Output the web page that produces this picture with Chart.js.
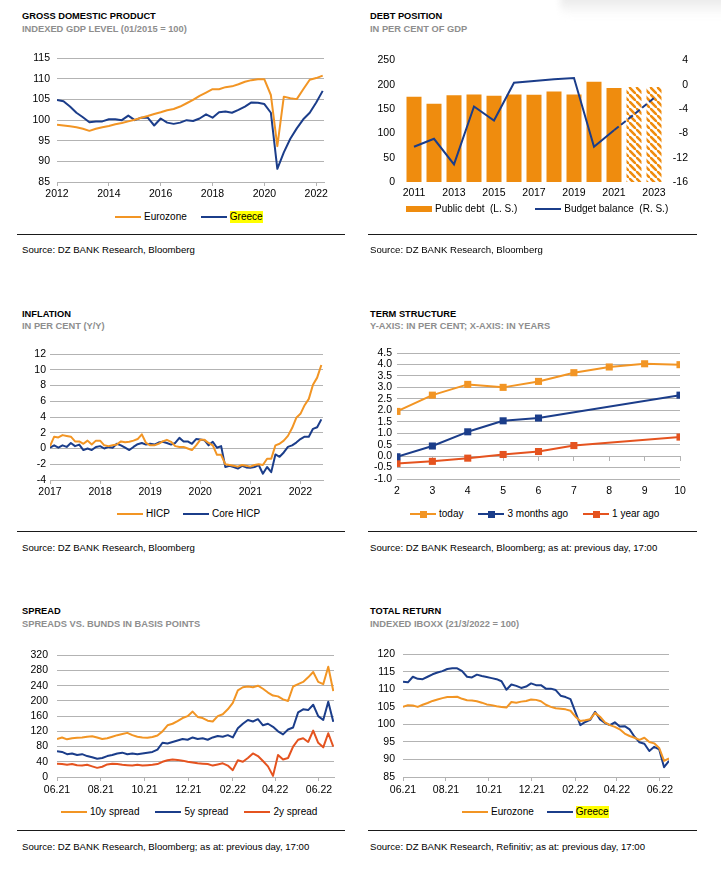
<!DOCTYPE html>
<html>
<head>
<meta charset="utf-8">
<title>Greece – charts</title>
<script src="https://cdn.jsdelivr.net/npm/chart.js@4.4.1/dist/chart.umd.min.js"></script>
<style>
	body { margin: 0; background: #fff; }
	#page { position: relative; width: 721px; height: 880px; overflow: hidden; font-family: "Liberation Sans", Arial, sans-serif; color: #000; }
	.t { position: absolute; font-size: 9.3px; font-weight: bold; line-height: 11px; white-space: nowrap; }
	.s { position: absolute; font-size: 9.3px; font-weight: bold; line-height: 11px; color: #8e8e8e; white-space: nowrap; }
	.src { position: absolute; font-size: 9.6px; line-height: 11px; white-space: nowrap; }
	.rule { position: absolute; height: 1px; background: #1a1a1a; }
	.smudge { position: absolute; left: 560px; top: -8px; width: 175px; height: 24px; border-radius: 10px; background: linear-gradient(to bottom, #e2e2e2, #f4f4f4 60%, rgba(255,255,255,0)); filter: blur(3px); }
	canvas { position: absolute; }
	.legend { position: absolute; height: 12px; display: flex; align-items: center; font-size: 10px; white-space: nowrap; }
	.legend .item { display: flex; align-items: center; }
	.legend .mark { position: relative; display: inline-block; width: 26px; height: 2.5px; }
	.legend .mark.box { height: 6px; }
	.legend .mark i { position: absolute; left: 9.5px; top: -2.25px; width: 7px; height: 7px; }
	.legend .txt { margin-left: 3px; line-height: 12px; white-space: pre; }
	.legend .hl { background: #ffff00; }
</style>
</head>
<body>
<div id="page">
	<div class="smudge"></div>
	<div class="t" style="left:22px;top:11px">GROSS DOMESTIC PRODUCT</div>
	<div class="s" style="left:22px;top:24px">INDEXED GDP LEVEL (01/2015 = 100)</div>
	<canvas id="gdpChart" width="320" height="160" style="left:17px;top:45px"></canvas>
	<div class="legend" id="leg1" style="left:115px;top:211px;gap:14px"></div>
	<div class="rule" style="left:17px;top:234px;width:328px"></div>
	<div class="src" style="left:22px;top:244px">Source: DZ BANK Research, Bloomberg</div>

	<div class="t" style="left:370px;top:11px">DEBT POSITION</div>
	<div class="s" style="left:370px;top:24px">IN PER CENT OF GDP</div>
	<canvas id="debtChart" width="325" height="160" style="left:370px;top:45px"></canvas>
	<div class="legend" id="leg2" style="left:406px;top:203px;gap:18px"></div>
	<div class="rule" style="left:368px;top:234px;width:329px"></div>
	<div class="src" style="left:370px;top:244px">Source: DZ BANK Research, Bloomberg</div>

	<div class="t" style="left:22px;top:309px">INFLATION</div>
	<div class="s" style="left:22px;top:321px">IN PER CENT (Y/Y)</div>
	<canvas id="inflationChart" width="320" height="162" style="left:17px;top:342px"></canvas>
	<div class="legend" id="leg3" style="left:117px;top:508px;gap:13px"></div>
	<div class="rule" style="left:17px;top:531px;width:328px"></div>
	<div class="src" style="left:22px;top:542px">Source: DZ BANK Research, Bloomberg</div>

	<div class="t" style="left:370px;top:309px">TERM STRUCTURE</div>
	<div class="s" style="left:370px;top:321px">Y-AXIS: IN PER CENT; X-AXIS: IN YEARS</div>
	<canvas id="termChart" width="335" height="163" style="left:360px;top:341px"></canvas>
	<div class="legend" id="leg4" style="left:410px;top:508px;gap:15px"></div>
	<div class="rule" style="left:368px;top:531px;width:329px"></div>
	<div class="src" style="left:370px;top:542px">Source: DZ BANK Research, Bloomberg; as at: previous day, 17:00</div>

	<div class="t" style="left:22px;top:606px">SPREAD</div>
	<div class="s" style="left:22px;top:619px">SPREADS VS. BUNDS IN BASIS POINTS</div>
	<canvas id="spreadChart" width="325" height="162" style="left:17px;top:640px"></canvas>
	<div class="legend" id="leg5" style="left:61px;top:806px;gap:16px"></div>
	<div class="rule" style="left:17px;top:830px;width:328px"></div>
	<div class="src" style="left:22px;top:841px">Source: DZ BANK Research, Bloomberg; as at: previous day, 17:00</div>

	<div class="t" style="left:370px;top:606px">TOTAL RETURN</div>
	<div class="s" style="left:370px;top:619px">INDEXED IBOXX (21/3/2022 = 100)</div>
	<canvas id="returnChart" width="325" height="162" style="left:360px;top:640px"></canvas>
	<div class="legend" id="leg6" style="left:462px;top:806px;gap:13px"></div>
	<div class="rule" style="left:368px;top:830px;width:329px"></div>
	<div class="src" style="left:370px;top:841px">Source: DZ BANK Research, Refinitiv; as at: previous day, 17:00</div>
</div>

<script>
const ORANGE = "#f29524";
const BAR_ORANGE = "#ef8c0e";
const BLUE = "#1b3d8a";
const RED = "#e5531f";
const GRID = "#b3b3b3";

// ---- GDP, quarterly from Q1 2012
const gdpEurozone = [
	98.9, 98.7, 98.5, 98.3, 97.9, 97.4, 97.9, 98.3, 98.6, 99.0, 99.3, 99.7,
	100.1, 100.6, 101.0, 101.5, 101.9, 102.4, 102.7, 103.3, 104.1, 104.9, 105.9, 106.7,
	107.5, 107.5, 108.0, 108.2, 108.7, 109.3, 109.7, 109.9, 109.9, 106.1, 93.7, 105.7,
	105.3, 105.1, 107.5, 109.8, 110.2, 110.8,
];
const gdpGreece = [
	104.9, 104.6, 103.3, 101.8, 100.7, 99.5, 99.7, 99.7, 100.2, 100.2, 100.0, 101.1,
	100.0, 100.6, 100.6, 98.7, 100.4, 99.4, 99.1, 99.4, 100.0, 99.8, 100.4, 101.4,
	100.6, 101.9, 102.1, 101.8, 102.5, 103.3, 104.3, 104.2, 103.9, 101.8, 88.2, 92.2,
	95.5, 98.0, 100.2, 101.8, 104.3, 107.1,
];
const gdpQuarters = gdpGreece.map((v, i) => 2012 + i / 4);
const gdpTicks = [2012, 2014, 2016, 2018, 2020, 2022];

// ---- debt position
const debtYears = ["2011", "2012", "2013", "2014", "2015", "2016", "2017", "2018", "2019", "2020", "2021", "2022", "2023"];
const publicDebt = [175, 161, 178, 180, 177, 180, 179, 186, 180, 206, 193, 195, 195];
const budgetBalance = [-10.2, -8.9, -13.1, -3.6, -5.9, 0.3, 0.6, 0.9, 1.1, -10.2, -7.5, -4.9, -2.2];
const firstForecast = 11;

// ---- inflation, monthly from 01/2017
const hicp = [
	0.3, 1.5, 1.4, 1.7, 1.6, 1.5, 0.9, 0.9, 0.6, 1.0, 0.5, 1.0,
	1.0, 0.4, 0.3, 0.4, 0.5, 0.9, 0.8, 0.85, 1.0, 1.2, 1.8, 0.7,
	0.4, 0.4, 0.6, 0.9, 1.1, 0.85, 0.3, 0.2, 0.2, 0.0, -0.2, 0.4,
	1.1, 1.1, 0.7, 0.4, -0.8, -0.8, -2.0, -2.1, -2.2, -2.3, -2.1, -2.2,
	-2.3, -2.1, -2.0, -2.1, -1.3, -1.3, 0.4, 0.6, 1.0, 1.6, 2.6, 3.9,
	4.4, 5.5, 6.3, 8.1, 9.0, 10.6,
];
const coreHicp = [
	0.1, 0.4, 0.1, 0.4, 0.2, 0.7, 0.3, 0.5, -0.2, 0.0, -0.2, 0.2,
	0.3, 0.0, 0.2, 0.1, 0.6, 0.4, 0.1, -0.2, 0.2, 0.55, 0.7, 0.5,
	0.6, 0.5, 0.75, 0.85, 0.7, 0.5, 0.7, 1.35, 0.9, 0.9, 0.6, 1.2,
	1.15, 1.05, 0.4, 0.85, 0.1, 0.3, -2.35, -2.2, -2.35, -2.55, -2.2, -2.4,
	-2.45, -2.35, -2.1, -3.2, -2.35, -3.0, -0.75, -1.05, -0.5, 0.2, 0.4, 0.75,
	1.2, 1.5, 1.5, 2.5, 2.7, 3.7,
];
const inflationMonths = hicp.map((v, i) => 2017 + i / 12);
const inflationTicks = [2017, 2018, 2019, 2020, 2021, 2022];

// ---- term structure
const tenors = [2, 3, 4, 5, 6, 7, 8, 9, 10];
const curveToday = [1.95, 2.66, 3.13, 3.0, 3.26, 3.64, 3.89, 4.03, 3.99];
const curve3m = [-0.03, 0.44, 1.06, 1.54, 1.66, null, null, null, 2.66];
const curve1y = [-0.32, -0.23, -0.09, 0.07, 0.2, 0.46, null, null, 0.83];

// ---- spreads, weekly from 01.06.2021
const spread10y = [
	100, 104, 99, 102, 103, 104, 106, 107, 104, 100, 102, 106, 110, 113,
	116, 110, 106, 104, 103, 105, 109, 120, 136, 140, 147, 155, 160, 172,
	158, 155, 148, 146, 160, 165, 178, 195, 228, 236, 238, 236, 240, 232,
	222, 214, 212, 204, 200, 238, 244, 250, 262, 276, 250, 244, 290, 226,
];
const spread5y = [
	68, 66, 60, 62, 58, 60, 55, 52, 48, 50, 55, 58, 62, 64,
	60, 62, 60, 62, 64, 66, 72, 90, 88, 92, 96, 100, 98, 104,
	100, 102, 98, 104, 108, 106, 110, 104, 128, 140, 150, 146, 152, 136,
	140, 132, 120, 112, 125, 130, 170, 178, 176, 190, 160, 150, 198, 145,
];
const spread2y = [
	35, 34, 32, 34, 31, 30, 32, 28, 24, 27, 33, 35, 34, 32,
	31, 30, 32, 30, 31, 32, 34, 40, 44, 46, 45, 43, 40, 38,
	36, 35, 34, 30, 33, 36, 30, 18, 44, 40, 50, 62, 55, 42,
	28, 3, 58, 46, 50, 80, 98, 102, 92, 122, 90, 78, 115, 80,
];
const spreadDays = spread10y.map((v, k) => k * 7);

// ---- total return, weekly from 01.06.2021
const returnEurozone = [
	105.0, 105.5, 105.4, 105.0, 105.6, 106.1, 106.7, 107.1, 107.5, 107.8, 107.8,
	107.9, 107.3, 106.9, 106.8, 106.6, 106.2, 105.7, 105.5, 105.2, 105.0, 104.8,
	106.4, 106.2, 106.5, 106.7, 107.1, 107.0, 106.6, 105.6, 105.0, 104.6, 104.5,
	104.3, 103.9, 102.2, 101.0, 101.2, 101.5, 103.3, 102.2, 100.6, 99.8, 99.3,
	98.6, 97.4, 96.7, 96.2, 95.6, 96.2, 95.0, 94.6, 93.3, 89.6, 90.3,
];
const returnGreece = [
	112.2, 112.0, 113.6, 113.0, 112.9, 113.6, 114.3, 114.8, 115.2, 115.8, 116.0,
	116.0, 115.2, 113.6, 113.4, 114.2, 113.8, 113.5, 113.2, 112.9, 112.3, 109.9,
	111.4, 111.0, 110.4, 110.8, 111.7, 111.2, 111.2, 110.2, 110.2, 109.8, 108.2,
	107.8, 107.2, 103.5, 99.8, 100.7, 101.3, 103.6, 101.4, 100.4, 99.8, 100.6,
	99.4, 99.5, 98.6, 96.5, 94.9, 94.5, 92.4, 93.6, 92.9, 87.8, 89.6,
];
const returnDays = returnGreece.map((v, k) => k * 7);

const monthTicks = [0, 61, 122, 183, 245, 304, 365];
const monthTickLabels = ["06.21", "08.21", "10.21", "12.21", "02.22", "04.22", "06.22"];

Chart.defaults.font.family = "'Liberation Sans', Arial, sans-serif";
Chart.defaults.font.size = 10.5;
Chart.defaults.color = "#000";
Chart.defaults.animation = false;

const htmlLegendPlugin = {
	id: "htmlLegend",
	afterUpdate(chart, args, options) {
		const box = document.getElementById(options.containerID);
		while (box.firstChild) {
			box.firstChild.remove();
		}
		chart.data.datasets.forEach((ds) => {
			const item = document.createElement("span");
			item.className = "item";
			const mark = document.createElement("span");
			mark.className = ds.legendStyle === "box" ? "mark box" : "mark";
			mark.style.background = ds.legendColor || ds.borderColor;
			if (ds.legendStyle === "marker") {
				const sq = document.createElement("i");
				sq.style.background = ds.borderColor;
				mark.appendChild(sq);
			}
			const txt = document.createElement("span");
			txt.className = ds.highlight ? "txt hl" : "txt";
			txt.textContent = ds.label;
			item.appendChild(mark);
			item.appendChild(txt);
			box.appendChild(item);
		});
	},
};

function xy(xs, ys) {
	return ys.map((y, i) => ({ x: xs[i], y: y }));
}

function lineSet(label, color, xs, ys, extra) {
	return Object.assign({
		label: label,
		data: xy(xs, ys),
		borderColor: color,
		backgroundColor: color,
		borderWidth: 2,
		pointRadius: 0,
		tension: 0,
		borderJoinStyle: "round",
	}, extra || {});
}

// shared bits for the time-like linear x axes
function dateAxis(min, max, ticks, labels, padding) {
	return {
		type: "linear",
		min: min,
		max: max,
		afterBuildTicks: (scale) => {
			scale.ticks = ticks.map((v) => ({ value: v }));
		},
		afterFit: (scale) => { scale.height = 25; },
		ticks: {
			autoSkip: false,
			maxRotation: 0,
			padding: padding,
			callback: (v, i) => labels[i],
		},
		grid: { drawOnChartArea: false, tickLength: 4, color: GRID },
		border: { color: GRID },
	};
}

function valueAxis(min, max, step, width, padding, fmt) {
	return {
		min: min,
		max: max,
		afterFit: (scale) => { scale.width = width; },
		ticks: { stepSize: step, padding: padding, autoSkip: false, callback: fmt || ((v) => v) },
		grid: { color: GRID, drawTicks: false },
		border: { display: false },
	};
}

function stripes(color) {
	const tile = document.createElement("canvas");
	tile.width = 7;
	tile.height = 7;
	const g = tile.getContext("2d");
	g.strokeStyle = color;
	g.lineWidth = 2.6;
	g.beginPath();
	g.moveTo(-1, -1); g.lineTo(8, 8);
	g.moveTo(-4.5, 3.5); g.lineTo(3.5, 11.5);
	g.moveTo(3.5, -4.5); g.lineTo(11.5, 3.5);
	g.stroke();
	return g.createPattern(tile, "repeat");
}

// 1) GDP
new Chart(document.getElementById("gdpChart"), {
	type: "line",
	data: {
		datasets: [
			lineSet("Eurozone", ORANGE, gdpQuarters, gdpEurozone),
			lineSet("Greece", BLUE, gdpQuarters, gdpGreece, { highlight: true }),
		],
	},
	options: {
		responsive: false,
		layout: { padding: { top: 12, right: 13 } },
		plugins: { legend: { display: false }, tooltip: { enabled: false }, htmlLegend: { containerID: "leg1" } },
		scales: {
			x: Object.assign(dateAxis(2012, 2022.3, gdpTicks, gdpTicks, 2), { afterFit: (s) => { s.height = 23; } }),
			y: valueAxis(85, 115, 5, 40, 7),
		},
	},
	plugins: [htmlLegendPlugin],
});

// 2) debt position
const hatch = stripes(BAR_ORANGE);
new Chart(document.getElementById("debtChart"), {
	type: "bar",
	data: {
		labels: debtYears,
		datasets: [
			{
				type: "bar",
				label: "Public debt  (L. S.)",
				data: publicDebt,
				yAxisID: "y",
				backgroundColor: publicDebt.map((v, i) => (i >= firstForecast ? hatch : BAR_ORANGE)),
				borderWidth: 0,
				barPercentage: 0.75,
				categoryPercentage: 1,
				legendStyle: "box",
				legendColor: BAR_ORANGE,
				order: 2,
			},
			{
				type: "line",
				label: "Budget balance  (R. S.)",
				data: budgetBalance,
				yAxisID: "y1",
				borderColor: BLUE,
				borderWidth: 2,
				pointRadius: 0,
				tension: 0,
				segment: {
					borderDash: (ctx) => (ctx.p0DataIndex >= firstForecast - 1 ? [6, 3] : undefined),
				},
				order: 1,
			},
		],
	},
	options: {
		responsive: false,
		layout: { padding: { top: 12, right: 7 } },
		plugins: { legend: { display: false }, tooltip: { enabled: false }, htmlLegend: { containerID: "leg2" } },
		scales: {
			x: {
				afterFit: (s) => { s.height = 23; },
				ticks: {
					autoSkip: false,
					maxRotation: 0,
					padding: 5,
					callback: (v, i) => (i % 2 === 0 ? debtYears[i] : ""),
				},
				grid: { display: false, drawTicks: false },
				border: { display: false },
			},
			y: {
				min: 0,
				max: 250,
				afterFit: (s) => { s.width = 34; },
				ticks: { stepSize: 50, padding: 9 },
				grid: { display: false, drawTicks: false },
				border: { display: false },
			},
			y1: {
				position: "right",
				min: -16,
				max: 4,
				afterFit: (s) => { s.width = 24; },
				ticks: { stepSize: 4, crossAlign: "far" },
				grid: { display: false, drawTicks: false },
				border: { display: false },
			},
		},
	},
	plugins: [htmlLegendPlugin],
});

// 3) inflation
new Chart(document.getElementById("inflationChart"), {
	type: "line",
	data: {
		datasets: [
			lineSet("HICP", ORANGE, inflationMonths, hicp),
			lineSet("Core HICP", BLUE, inflationMonths, coreHicp),
		],
	},
	options: {
		responsive: false,
		layout: { padding: { top: 12, right: 14 } },
		plugins: { legend: { display: false }, tooltip: { enabled: false }, htmlLegend: { containerID: "leg3" } },
		scales: {
			x: Object.assign(dateAxis(2017, 2022.45, inflationTicks, inflationTicks, 2), { afterFit: (s) => { s.height = 24; } }),
			y: valueAxis(-4, 12, 2, 33, 4),
		},
	},
	plugins: [htmlLegendPlugin],
});

// 4) term structure
function curveSet(label, color, ys) {
	return lineSet(label, color, tenors, ys, {
		pointStyle: "rect",
		pointRadius: 5,
		pointBorderWidth: 0,
		spanGaps: true,
		legendStyle: "marker",
	});
}
new Chart(document.getElementById("termChart"), {
	type: "line",
	data: {
		datasets: [
			curveSet("today", ORANGE, curveToday),
			curveSet("3 months ago", BLUE, curve3m),
			curveSet("1 year ago", RED, curve1y),
		],
	},
	options: {
		responsive: false,
		layout: { padding: { top: 12, right: 15 } },
		plugins: { legend: { display: false }, tooltip: { enabled: false }, htmlLegend: { containerID: "leg4" } },
		scales: {
			x: {
				type: "linear",
				min: 2,
				max: 10,
				afterFit: (s) => { s.height = 25; },
				ticks: { stepSize: 1, padding: 6, maxRotation: 0, autoSkip: false },
				grid: { drawOnChartArea: false, drawTicks: false },
				border: { display: false },
			},
			xZero: {
				type: "linear",
				axis: "x",
				position: { y: 0 },
				min: 2,
				max: 10,
				ticks: { stepSize: 1, display: false },
				grid: { drawOnChartArea: false, tickLength: 4, color: GRID },
				border: { color: GRID },
			},
			y: valueAxis(-1, 4.5, 0.5, 37, 5, (v) => v.toFixed(1)),
		},
	},
	plugins: [htmlLegendPlugin],
});

// 5) spreads
new Chart(document.getElementById("spreadChart"), {
	type: "line",
	data: {
		datasets: [
			lineSet("10y spread", ORANGE, spreadDays, spread10y),
			lineSet("5y spread", BLUE, spreadDays, spread5y),
			lineSet("2y spread", RED, spreadDays, spread2y),
		],
	},
	options: {
		responsive: false,
		layout: { padding: { top: 12, right: 8 } },
		plugins: { legend: { display: false }, tooltip: { enabled: false }, htmlLegend: { containerID: "leg5" } },
		scales: {
			x: dateAxis(0, 386, monthTicks, monthTickLabels, 3),
			y: valueAxis(0, 320, 40, 40, 9),
		},
	},
	plugins: [htmlLegendPlugin],
});

// 6) total return
new Chart(document.getElementById("returnChart"), {
	type: "line",
	data: {
		datasets: [
			lineSet("Eurozone", ORANGE, returnDays, returnEurozone),
			lineSet("Greece", BLUE, returnDays, returnGreece, { highlight: true }),
		],
	},
	options: {
		responsive: false,
		layout: { padding: { top: 12, right: 16 } },
		plugins: { legend: { display: false }, tooltip: { enabled: false }, htmlLegend: { containerID: "leg6" } },
		scales: {
			x: dateAxis(0, 378, monthTicks, monthTickLabels, 3),
			y: valueAxis(85, 120, 5, 43, 8),
		},
	},
	plugins: [htmlLegendPlugin],
});
</script>
</body>
</html>
